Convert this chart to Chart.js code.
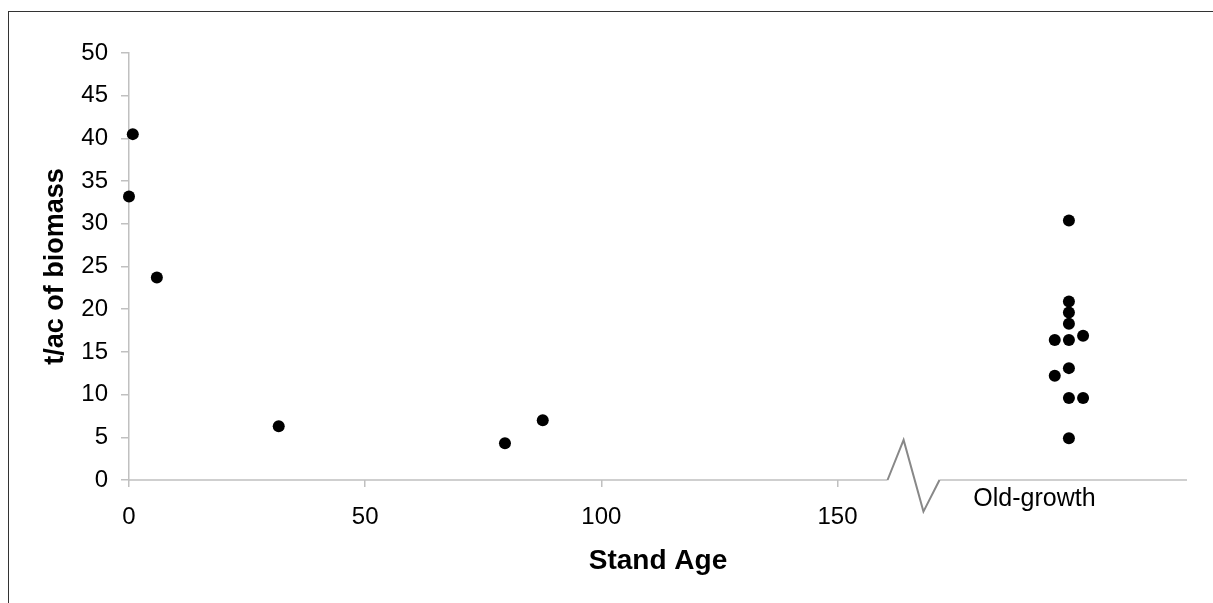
<!DOCTYPE html>
<html>
<head>
<meta charset="utf-8">
<script src="https://cdn.jsdelivr.net/npm/chart.js@4"></script>
<style>
  html, body { margin: 0; padding: 0; background: #fff; overflow: hidden; }
  #wrap { position: relative; width: 1213px; height: 603px; overflow: hidden; }
  #frame { position: absolute; left: 8px; top: 11px; width: 1300px; height: 700px;
           border: 1.5px solid #333; box-sizing: border-box; pointer-events: none; }
  canvas { position: absolute; left: 0; top: 0; }
</style>
</head>
<body>
<div id="wrap">
  <div id="frame"></div>
  <canvas id="chart" width="1213" height="603"></canvas>
</div>
<script>
// Biomass by stand age
const standAge = [0.8, 0, 5.9, 31.7, 79.6, 87.6];
const standBiomass = [40.5, 33.2, 23.7, 6.3, 4.3, 7.0];

// Old-growth plots are placed past the axis break (x is only a plotting slot)
const oldGrowthSlot = [199, 199, 199, 199, 202, 196, 199, 199, 196, 199, 202, 199];
const oldGrowthBiomass = [30.4, 20.9, 19.6, 18.3, 16.9, 16.4, 16.4, 13.1, 12.2, 9.6, 9.6, 4.9];

const xTicks = [0, 50, 100, 150];
const yTicks = [0, 5, 10, 15, 20, 25, 30, 35, 40, 45, 50];
const breakAt = [160.6, 164, 168.2, 171.6];
const breakY = [0, 4.7, -3.7, 0];
const oldGrowthLabel = 'Old-growth';

const axisGray = '#c0c0c0';
const fontFamily = 'Arial, "Liberation Sans", sans-serif';

const toPoints = (xs, ys) => xs.map((x, i) => ({ x: x, y: ys[i] }));

// draws the broken x axis line and the "Old-growth" label
const brokenAxis = {
  id: 'brokenAxis',
  afterDatasetsDraw(chart) {
    const ctx = chart.ctx;
    const x = chart.scales.x;
    const y = chart.scales.y;
    const y0 = y.getPixelForValue(0);
    ctx.save();
    ctx.lineWidth = 1.5;
    ctx.strokeStyle = axisGray;
    ctx.beginPath();
    ctx.moveTo(x.getPixelForValue(0), y0);
    ctx.lineTo(x.getPixelForValue(breakAt[0]), y0);
    ctx.moveTo(x.getPixelForValue(breakAt[3]), y0);
    ctx.lineTo(x.right, y0);
    ctx.stroke();

    ctx.strokeStyle = '#888';
    ctx.lineWidth = 2;
    ctx.beginPath();
    breakAt.forEach((v, i) => {
      const px = x.getPixelForValue(v);
      const py = y.getPixelForValue(breakY[i]);
      if (i === 0) ctx.moveTo(px, py); else ctx.lineTo(px, py);
    });
    ctx.stroke();

    ctx.fillStyle = '#000';
    ctx.font = '25px ' + fontFamily;
    ctx.textAlign = 'center';
    ctx.textBaseline = 'middle';
    ctx.fillText(oldGrowthLabel, x.getPixelForValue(191.7), y0 + 19);
    ctx.restore();
  }
};

new Chart(document.getElementById('chart'), {
  type: 'scatter',
  data: {
    datasets: [
      {
        label: 'Stands',
        data: toPoints(standAge, standBiomass),
        backgroundColor: '#000',
        borderWidth: 0,
        pointRadius: 6,
        clip: false
      },
      {
        label: 'Old-growth',
        data: toPoints(oldGrowthSlot, oldGrowthBiomass),
        backgroundColor: '#000',
        borderWidth: 0,
        pointRadius: 6,
        clip: false
      }
    ]
  },
  options: {
    responsive: false,
    animation: false,
    devicePixelRatio: 1,
    layout: { padding: { left: 0, right: 26, top: 53, bottom: 25 } },
    plugins: { legend: { display: false }, tooltip: { enabled: false } },
    scales: {
      x: {
        type: 'linear',
        min: 0,
        max: 224,
        afterBuildTicks: s => { s.ticks = xTicks.map(v => ({ value: v })); },
        afterFit: s => { s.height = 98; },
        border: { display: false },
        grid: { drawOnChartArea: false, drawTicks: true, tickLength: 7, color: axisGray, lineWidth: 1.5 },
        ticks: { color: '#000', padding: 16, maxRotation: 0, font: { size: 24, family: fontFamily } },
        title: {
          display: true,
          text: 'Stand Age',
          color: '#000',
          padding: 0,
          font: { size: 28, weight: 'bold', family: fontFamily }
        }
      },
      y: {
        min: 0,
        max: 50,
        afterBuildTicks: s => { s.ticks = yTicks.map(v => ({ value: v })); },
        afterFit: s => { s.width = 129; },
        border: { display: true, color: axisGray, width: 1.5 },
        grid: { drawOnChartArea: false, drawTicks: true, tickLength: 8, color: axisGray, lineWidth: 1.5 },
        ticks: { color: '#000', padding: 13, font: { size: 24, family: fontFamily } },
        title: {
          display: true,
          text: 't/ac of biomass',
          color: '#000',
          padding: { top: 39, bottom: 0 },
          font: { size: 27, weight: 'bold', family: fontFamily }
        }
      }
    }
  },
  plugins: [brokenAxis]
});
</script>
</body>
</html>
